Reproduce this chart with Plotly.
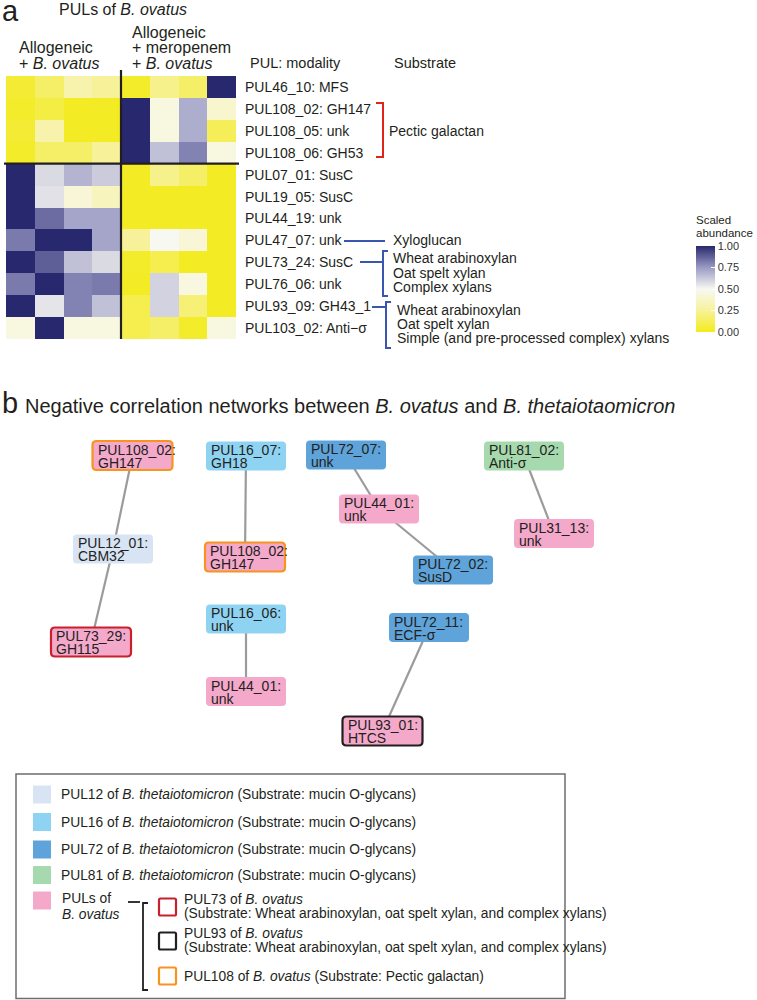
import plotly.graph_objects as go

W, H = 757, 1000
FONT = "Liberation Sans, Arial, sans-serif"
TXT = "#231f20"

# ---------------- Panel a data ----------------
pul_labels = ["PUL46_10: MFS", "PUL108_02: GH147", "PUL108_05: unk", "PUL108_06: GH53",
              "PUL07_01: SusC", "PUL19_05: SusC", "PUL44_19: unk", "PUL47_07: unk",
              "PUL73_24: SusC", "PUL76_06: unk", "PUL93_09: GH43_1", "PUL103_02: Anti\u2212\u03c3"]
group1_samples = ["A1", "A2", "A3", "A4"]
group2_samples = ["M1", "M2", "M3", "M4"]
samples = group1_samples + group2_samples
abundance = [
    [0.05, 0.15, 0.30, 0.25, 0.03, 0.22, 0.15, 1.00],
    [0.03, 0.08, 0.02, 0.02, 1.00, 0.45, 0.70, 0.40],
    [0.05, 0.30, 0.02, 0.02, 1.00, 0.45, 0.70, 0.12],
    [0.03, 0.15, 0.15, 0.25, 1.00, 0.65, 0.80, 0.45],
    [1.00, 0.58, 0.68, 0.62, 0.02, 0.22, 0.15, 0.02],
    [1.00, 0.56, 0.42, 0.35, 0.02, 0.02, 0.02, 0.02],
    [1.00, 0.85, 0.72, 0.72, 0.02, 0.02, 0.02, 0.02],
    [0.82, 1.00, 1.00, 0.72, 0.25, 0.50, 0.42, 0.02],
    [1.00, 0.88, 0.65, 0.58, 0.03, 0.10, 0.02, 0.02],
    [0.82, 1.00, 0.80, 0.82, 0.02, 0.60, 0.45, 0.02],
    [1.00, 0.55, 0.80, 0.65, 0.10, 0.60, 0.18, 0.02],
    [0.45, 1.00, 0.45, 0.45, 0.10, 0.15, 0.03, 0.45],
]
cbar_ticks = [0.0, 0.25, 0.5, 0.75, 1.0]
cbar_ticktext = ["0.00", "0.25", "0.50", "0.75", "1.00"]

# ---------------- Panel b data (network) ----------------
node_line1 = ["PUL108_02:", "PUL12_01:", "PUL73_29:", "PUL16_07:", "PUL108_02:", "PUL16_06:",
              "PUL44_01:", "PUL72_07:", "PUL44_01:", "PUL72_02:", "PUL72_11:", "PUL93_01:",
              "PUL81_02:", "PUL31_13:"]
node_line2 = ["GH147", "CBM32", "GH115", "GH18", "GH147", "unk", "unk", "unk", "unk", "SusD",
              "ECF-\u03c3", "HTCS", "Anti-\u03c3", "unk"]
node_x = [132.5, 113, 91, 246, 245, 246, 246, 346, 379, 453, 429, 382.5, 524, 554]
node_y = [455.5, 549, 642, 456, 557, 619, 691.5, 455, 509, 570, 627.5, 731, 456, 533.5]
node_group = ["bo", "p12", "bo", "p16", "bo", "p16", "bo", "p72", "bo", "p72", "p72", "bo", "p81", "bo"]
node_border = ["p108", None, "p73", None, "p108", None, None, None, None, None, None, "p93", None, None]
edges = [(0, 1), (1, 2), (3, 4), (5, 6), (7, 8), (8, 9), (10, 11), (12, 13)]

fill_colors = {"p12": "#d8e4f4", "p16": "#8fd3f3", "p72": "#5ea3d9", "p81": "#a6d9ae", "bo": "#f4a9cb"}
border_colors = {"p73": "#c8202f", "p93": "#231f20", "p108": "#f7941d"}

legend_fill_keys = ["p12", "p16", "p72", "p81", "bo"]
legend_fill_text = [
    "PUL12 of <i>B. thetaiotomicron</i> (Substrate: mucin O-glycans)",
    "PUL16 of <i>B. thetaiotomicron</i> (Substrate: mucin O-glycans)",
    "PUL72 of <i>B. thetaiotomicron</i> (Substrate: mucin O-glycans)",
    "PUL81 of <i>B. thetaiotomicron</i> (Substrate: mucin O-glycans)",
    "",
]
legend_border_keys = ["p73", "p93", "p108"]
legend_border_text = [
    ["PUL73 of <i>B. ovatus</i>", "(Substrate: Wheat arabinoxylan, oat spelt xylan, and complex xylans)"],
    ["PUL93 of <i>B. ovatus</i>", "(Substrate: Wheat arabinoxylan, oat spelt xylan, and complex xylans)"],
    ["PUL108 of <i>B. ovatus</i> (Substrate: Pectic galactan)"],
]

# ---------------- geometry ----------------
HM_L, HM_R, HM_T, HM_B = 6, 236, 76, 339
nrow, ncol = len(pul_labels), len(samples)
row_h = (HM_B - HM_T) / nrow
col_w = (HM_R - HM_L) / ncol

fig = go.Figure()

fig.add_trace(go.Heatmap(
    z=abundance, x=list(range(ncol)), y=list(range(nrow)),
    zmin=0, zmax=1,
    colorscale=[[0, "#f3eb1b"], [0.25, "#f7f29a"], [0.5, "#f8f8f2"], [0.75, "#9a9ac4"], [1, "#28286e"]],
    xgap=0, ygap=0, hoverinfo="skip",
    colorbar=dict(
        x=696 / W, xanchor="left", xref="paper", xpad=0,
        y=1 - 246 / H, yanchor="top", ypad=0,
        len=86 / H, lenmode="fraction", thickness=19, thicknessmode="pixels",
        outlinewidth=0, tickvals=cbar_ticks, ticktext=cbar_ticktext,
        ticks="inside", ticklen=4, tickcolor="white",
        tickfont=dict(size=11, color="#333", family=FONT),
    ),
    xaxis="x", yaxis="y",
))

# edges
ex, ey = [], []
for a, b in edges:
    ex += [node_x[a], node_x[b], None]
    ey += [node_y[a], node_y[b], None]
fig.add_trace(go.Scatter(x=ex, y=ey, mode="lines", line=dict(color="#9b9b9b", width=2.2),
                         xaxis="x2", yaxis="y2", hoverinfo="skip", showlegend=False))

shapes, annots = [], []


def txt(x, y, s, size=14, xanchor="left", yanchor="middle", color=TXT, family=FONT):
    annots.append(dict(x=x, y=y, xref="x2", yref="y2", text=s, showarrow=False,
                       xanchor=xanchor, yanchor=yanchor, borderpad=0,
                       font=dict(size=size, color=color, family=family)))


def line(x0, y0, x1, y1, color=TXT, width=2):
    shapes.append(dict(type="line", x0=x0, y0=y0, x1=x1, y1=y1, xref="x2", yref="y2",
                       line=dict(color=color, width=width)))


def path(pts, color, width=2):
    d = "M " + " L ".join(f"{x},{y}" for x, y in pts)
    shapes.append(dict(type="path", path=d, xref="x2", yref="y2", line=dict(color=color, width=width)))


def rrect(x0, y0, x1, y1, r, fill, lc=None, lw=0):
    d = (f"M {x0+r},{y0} L {x1-r},{y0} Q {x1},{y0} {x1},{y0+r} L {x1},{y1-r} Q {x1},{y1} {x1-r},{y1} "
         f"L {x0+r},{y1} Q {x0},{y1} {x0},{y1-r} L {x0},{y0+r} Q {x0},{y0} {x0+r},{y0} Z")
    shapes.append(dict(type="path", path=d, xref="x2", yref="y2", fillcolor=fill,
                       line=dict(color=lc if lc else fill, width=lw if lc else 0), layer="above"))


# ---------------- Panel a decorations ----------------
txt(1, 11, "a", size=29)
txt(58, 9, "PULs of <i>B. ovatus</i>", size=16)
txt(18, 47, "Allogeneic", size=16)
txt(18, 63, "+ <i>B. ovatus</i>", size=16)
txt(131, 32, "Allogeneic", size=16)
txt(131, 47, "+ meropenem", size=16)
txt(131, 63, "+ <i>B. ovatus</i>", size=16)
txt(249, 63, "PUL: modality", size=14.5)
txt(393, 63, "Substrate", size=14.5)

# colorbar title
txt(695, 220, "Scaled", size=11.5)
txt(695, 233, "abundance", size=11.5)

# row labels via heatmap y-axis
for i, lab in enumerate(pul_labels):
    annots.append(dict(x=243 / W, xref="paper", y=i, yref="y", text=lab, showarrow=False,
                       xanchor="left", yanchor="middle", font=dict(size=14, color=TXT, family=FONT)))

# dividers
vx = HM_L + len(group1_samples) * col_w
line(vx, 70, vx, HM_B, width=2.2)
hy = HM_T + 4 * row_h
line(4, hy, 239, hy, width=2.2)

RED = "#e2231a"
BLUE = "#3b56b0"
path([(376, 103), (383, 103), (383, 157), (376, 157)], RED)
txt(388, 131, "Pectic galactan", size=14)
line(344, 241, 385, 241, color=BLUE)
txt(392, 240, "Xyloglucan", size=14)
line(360, 262, 383, 262, color=BLUE)
path([(388, 251), (383, 251), (383, 296), (388, 296)], BLUE)
for k, s in enumerate(["Wheat arabinoxylan", "Oat spelt xylan", "Complex xylans"]):
    txt(392, 258 + 14.5 * k, s, size=14)
line(372, 307, 386, 307, color=BLUE)
path([(391, 302), (386, 302), (386, 348), (391, 348)], BLUE)
for k, s in enumerate(["Wheat arabinoxylan", "Oat spelt xylan", "Simple (and pre-processed complex) xylans"]):
    txt(396, 310 + 14 * k, s, size=14)

# ---------------- Panel b ----------------
txt(1, 403, "b", size=29)
txt(24, 406, "Negative correlation networks between <i>B. ovatus</i> and <i>B. thetaiotaomicron</i>",
    size=20)

BW, BH = 80, 29
for i in range(len(node_x)):
    x0, x1 = node_x[i] - BW / 2, node_x[i] + BW / 2
    y0, y1 = node_y[i] - BH / 2, node_y[i] + BH / 2
    bk = node_border[i]
    rrect(x0, y0, x1, y1, 4, fill_colors[node_group[i]],
          border_colors[bk] if bk else None, 2.2 if bk else 0)
    txt(x0 + 4, y0 + 8.5, node_line1[i], size=14)
    txt(x0 + 4, y0 + 21.5, node_line2[i], size=14)

# legend box
shapes.append(dict(type="rect", x0=16, y0=774, x1=565, y1=998.5, xref="x2", yref="y2",
                   line=dict(color="#6d6d6d", width=1.5), fillcolor="rgba(0,0,0,0)"))
leg_y = [794.5, 822, 849.5, 875, 900.5]
for k, key in enumerate(legend_fill_keys):
    shapes.append(dict(type="rect", x0=33, x1=51, y0=leg_y[k] - 9, y1=leg_y[k] + 9, xref="x2", yref="y2",
                       fillcolor=fill_colors[key], line=dict(width=0)))
    if legend_fill_text[k]:
        txt(60, leg_y[k], legend_fill_text[k], size=13.8)
txt(61, 898, "PULs of", size=13.8)
txt(61, 914, "<i>B. ovatus</i>", size=13.8)
line(128, 902, 140, 902, width=1.8)
path([(148, 903), (143, 903), (143, 990), (148, 990)], TXT, width=1.8)

box_y = [907, 941, 976]
for k, key in enumerate(legend_border_keys):
    rrect(159, box_y[k] - 8.5, 176, box_y[k] + 8.5, 1.5, "white", border_colors[key], 2.2)
    lines = legend_border_text[k]
    if len(lines) == 2:
        txt(183, box_y[k] - 8, lines[0], size=13.8)
        txt(183, box_y[k] + 6.5, lines[1], size=13.8)
    else:
        txt(183, box_y[k], lines[0], size=13.8)

fig.update_layout(
    width=W, height=H, margin=dict(l=0, r=0, t=0, b=0),
    paper_bgcolor="white", plot_bgcolor="rgba(0,0,0,0)",
    showlegend=False,
    xaxis=dict(domain=[HM_L / W, HM_R / W], range=[-0.5, ncol - 0.5], visible=False, anchor="y"),
    yaxis=dict(domain=[1 - HM_B / H, 1 - HM_T / H], range=[nrow - 0.5, -0.5], visible=False, anchor="x"),
    xaxis2=dict(domain=[0, 1], range=[0, W], visible=False, anchor="y2"),
    yaxis2=dict(domain=[0, 1], range=[H, 0], visible=False, anchor="x2"),
    shapes=shapes, annotations=annots,
)

fig.write_html("out.html", config={"displayModeBar": False},
               post_script="document.body.style.margin='0';")
